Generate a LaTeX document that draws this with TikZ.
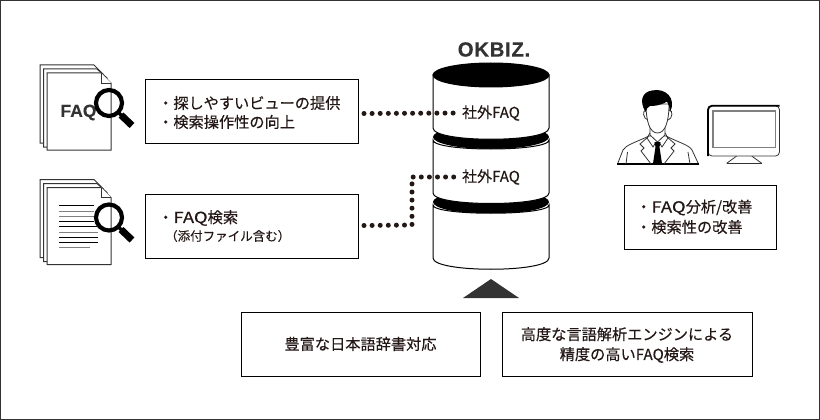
\documentclass[tikz,border=0pt]{standalone}
\usepackage{fontspec}
\usetikzlibrary{calc}
\setmainfont{Noto Sans CJK JP}
\newfontfamily\jp[FakeBold=0.3]{Noto Sans CJK JP}
\newfontfamily\jpwide[FakeBold=0.3,FakeStretch=1.22]{Noto Sans CJK JP}
\newfontfamily\lat[FakeBold=0.1]{Liberation Sans}
\newfontfamily\ok[FakeBold=0.15,LetterSpace=3]{Liberation Sans}
\definecolor{ink}{HTML}{231815}
\definecolor{dk}{HTML}{333333}
\newcommand{\FAQs}{{\jpwide\fontsize{15.2}{20}\selectfont FAQ}}
\tikzset{
 box/.style={draw=black,line width=1pt,fill=white,rectangle},
 txt/.style={font=\jp\fontsize{15.2}{20}\selectfont,text=ink,align=left,inner sep=0,anchor=west},
 ctr/.style={font=\jp\fontsize{15.2}{20}\selectfont,text=ink,align=center,inner sep=0},
 cyltext/.style={inner sep=0,text=ink,font=\jp\fontsize{15}{15}\selectfont},
 dots/.style={draw=ink,line width=5pt,line cap=round,dash pattern=on 0pt off 8.1pt},
 cyl/.style={draw=black,line width=1pt,fill=white},
 page/.style={draw=dk,line width=1pt,fill=white},
 manline/.style={draw=dk,line width=.8pt},
}
\newcommand{\docstack}[1]{%
 \begin{scope}[shift={(0,#1)}]
 \draw[page] (40,65)--(94,65)--(103,74)--(103,143)--(40,143)--cycle;
 \draw[page] (43.5,69)--(97,69)--(107,78)--(107,147)--(43.5,147)--cycle;
 \draw[page] (47,73)--(101,73)--(111,83)--(111,150)--(47,150)--cycle;
 \draw[page,line width=.7pt] (101,73)--(101,83)--(111,83);
 \end{scope}}
\newcommand{\lens}[1]{%
 \begin{scope}[shift={(0,#1)}]
 \draw[black,line width=4.2pt,fill=none] (109,103) circle (13);
 \draw[black,line width=3.5pt] (118,112)--(122,116);
 \draw[black,line width=7pt] (121,115)--(132,125.5);
 \end{scope}}
\begin{document}
\begin{tikzpicture}[x=1pt,y=-1pt]
\useasboundingbox (0,0) rectangle (820,420);
\draw[draw=dk,line width=1pt] (0.5,0.5) rectangle (819.5,419.5);

% documents
\docstack{0}
\docstack{114.5}
\node[inner sep=0,text=dk,font=\lat\bfseries\fontsize{17.5}{17.5}\selectfont] (faq) at (78.5,112.5) {FAQ};
\foreach \yy/\xe/\cc in {205.7/94/black,211/94/gray,216/94/gray,221.3/94/black,226.7/97/black,232/98/gray,237/98/black,242.3/98/black,247.7/90/gray}{
  \draw[\cc,line width=.9pt] (59,\yy)--(\xe,\yy);}
\lens{0}
\lens{114.5}

% boxes
\node[box,minimum width=213,minimum height=64,anchor=north west] (b1) at (145,79) {};
\node[txt] (t1) at (158,103) {・探しやすいビューの提供};
\node[txt] (t1b) at (158,122) {・検索操作性の向上};
\node[box,minimum width=213,minimum height=64,anchor=north west] (b2) at (145,194) {};
\node[txt] (t2) at (158,218) {・\FAQs 検索};
\node[inner sep=0,anchor=west,font=\jp\fontsize{12.5}{14}\selectfont,text=ink] (t2b) at (165,236) {（添付ファイル含む）};
\node[box,minimum width=152,minimum height=64,anchor=north west] (b3) at (624,185) {};
\node[txt] (t3) at (636,207.5) {・\FAQs 分析/改善};
\node[txt] (t3b) at (636,227) {・検索性の改善};
\node[box,minimum width=239,minimum height=64,anchor=north west] (b4) at (241,312) {};
\node[ctr] (t4) at (360.5,344) {豊富な日本語辞書対応};
\node[box,minimum width=250,minimum height=64,anchor=north west] (b5) at (502,312) {};
\node[ctr,align=center] (t5) at (627,345) {高度な言語解析エンジンによる\\精度の高いFAQ検索};

% cylinder
\node[inner sep=0,text=dk,font=\ok\bfseries\fontsize{20.5}{20.5}\selectfont] (okbiz) at (494,49.5) {OKBIZ.};
% bottom tier
\fill[black] (491,202) ellipse (58 and 12);
\draw[cyl] (433,205) .. controls (433,216) and (549,216) .. (549,205) -- (549,258) .. controls (549,273) and (433,273) .. (433,258) -- cycle;
% middle tier
\fill[black] (491,137) ellipse (58 and 12);
\draw[cyl] (433,140) .. controls (433,152) and (549,152) .. (549,140) -- (549,193) .. controls (549,207) and (433,207) .. (433,193) -- cycle;
% top tier
\draw[cyl] (433,75) -- (433,128) .. controls (433,143) and (549,143) .. (549,128) -- (549,75) -- cycle;
\draw[black,fill=black,line width=1pt] (491,75) ellipse (58 and 12);

\node[cyltext] (l1) at (491,113) {社外FAQ};
\node[cyltext] (l2) at (491,177) {社外FAQ};

% connectors
\coordinate (c1) at (412,225);
\coordinate (c2) at (412,177);
\draw[dots,shorten >=5pt] ($(b1.east)+(5,2)$) -- (l1.west);
\draw[dots,shorten >=5pt] ($(b2.east)+(5,-1)$) -- (c1) -- (c2) -- (l2.west);

% arrow
\fill[dk] (491,279)--(519,298)--(463,298)--cycle;

% person
\begin{scope}
 % body
 \draw[manline,fill=white] (617.5,164) -- (623,150) .. controls (626,145) and (634,143) .. (649,136) -- (666,136) .. controls (680,143) and (689,145) .. (692,150) -- (698.5,164);
 \draw[black,line width=1.3pt] (617,164) -- (699,164);
 % neck
 \draw[manline,fill=white] (650,124) -- (650,135) -- (657.5,142) -- (665,135) -- (665,124);
 % collar
 \draw[manline] (650,133) -- (647,138) -- (653,147) -- (656,142);
 \draw[manline] (665,133) -- (668,138) -- (662,147) -- (659,142);
 % tie
 \fill[black] (654.5,142) -- (660.5,142) -- (659.5,147) -- (662,163.5) -- (653,163.5) -- (655.5,147) -- cycle;
 % lapels
 \draw[manline] (648,137) -- (640,144) -- (644,148) -- (641,151) -- (651,164);
 \draw[manline] (667,137) -- (675,144) -- (671,148) -- (674,151) -- (664,164);
 % sleeves
 \draw[manline] (626,164) -- (627.5,152);
 \draw[manline] (690,164) -- (688,152);
 % ears + face
 \draw[manline,fill=white] (646,110) .. controls (642,110) and (643,119) .. (648,120);
 \draw[manline,fill=white] (669,110) .. controls (673.5,110) and (672.5,119) .. (668,120);
 \draw[manline,fill=white] (646,104) .. controls (646,122) and (650,133) .. (657.5,133) .. controls (665,133) and (669,122) .. (669,104) -- cycle;
 % hair
 \fill[black] (645.5,112) .. controls (639,101) and (642,92) .. (652,90.5) .. controls (665,87.5) and (677,98) .. (670,112) .. controls (669.5,108) and (669,105) .. (667,101.5) .. controls (660,106) and (653,106) .. (650,106) .. controls (647.5,107) and (646.5,109) .. (645.5,112) -- cycle;
\end{scope}
% monitor
\draw[manline] (726.7,163.3) -- (736.7,156);
\draw[manline] (761.7,163.3) -- (751.7,156);
\draw[manline] (726.7,163.3) -- (761.7,163.3);
\draw[dk,line width=.8pt,rounded corners=4pt,fill=white] (708,105.8) rectangle (779.5,156);
\draw[black,line width=1.8pt,rounded corners=4pt] (708,156) -- (708,105.8) -- (779.5,105.8);
\draw[gray,line width=1.5pt] (713,111) rectangle (775.5,147.5);
\end{tikzpicture}
\end{document}
